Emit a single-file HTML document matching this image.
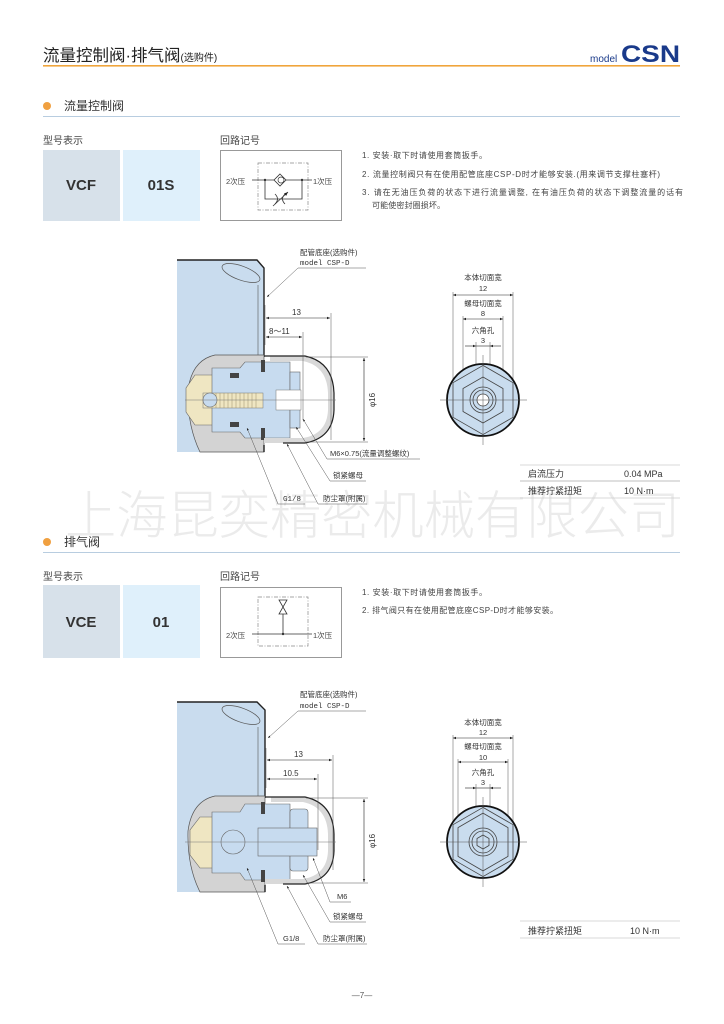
<!DOCTYPE html>
<html><head><meta charset="utf-8"><style>
html,body{margin:0;padding:0;background:#fff;}
svg{display:block;}
text{font-family:"Liberation Sans","Noto Sans CJK SC",sans-serif;fill:#333;}
.s{font-size:8px;}
.t{font-size:7.5px;}
</style></head><body>
<svg width="724" height="1024" viewBox="0 0 724 1024" xmlns="http://www.w3.org/2000/svg">
<defs>
<marker id="ar" viewBox="0 0 10 10" refX="10" refY="5" markerWidth="5" markerHeight="5" orient="auto-start-reverse"><path d="M0,1 L10,5 L0,9 Z" fill="#222"/></marker>
</defs>

<!-- Header -->
<text x="43" y="61" style="font-size:16.5px;fill:#222">流量控制阀·排气阀<tspan style="font-size:10px">(选购件)</tspan></text>
<text x="590" y="62" style="font-size:10px;fill:#1a3a8a">model</text>
<text x="621" y="62" textLength="59" lengthAdjust="spacingAndGlyphs" style="font-size:24px;font-weight:bold;fill:#1a3a8a">CSN</text>
<rect x="43" y="65" width="637" height="1.6" fill="#f0a53c"/>

<!-- Watermark -->
<text x="65" y="534" textLength="615" lengthAdjust="spacingAndGlyphs" style="font-size:52px;fill:#ebebeb;font-family:'Noto Sans CJK SC',sans-serif;font-weight:300">上海昆奕精密机械有限公司</text>

<!-- Section 1 -->
<circle cx="47" cy="106" r="4" fill="#f0a040"/>
<text x="64" y="110" style="font-size:12px;fill:#333">流量控制阀</text>
<rect x="43" y="116" width="637" height="1" fill="#b8cde0"/>

<text x="43" y="144" style="font-size:10px;fill:#444">型号表示</text>
<rect x="43" y="150" width="77" height="71" fill="#d7e1ea"/>
<rect x="123" y="150" width="77" height="71" fill="#dff0fb"/>
<text x="81" y="190" text-anchor="middle" style="font-size:15px;font-weight:bold;fill:#333">VCF</text>
<text x="161" y="190" text-anchor="middle" style="font-size:15px;font-weight:bold;fill:#333">01S</text>

<text x="220" y="144" style="font-size:10px;fill:#444">回路记号</text>
<rect x="220.5" y="150.5" width="121" height="70" fill="#fff" stroke="#999" stroke-width="1"/>
<rect x="258" y="163" width="50" height="47" fill="none" stroke="#888" stroke-width="0.7" stroke-dasharray="4,1.5,1,1.5"/>
<text x="226" y="184" class="t" style="fill:#444">2次压</text>
<text x="313" y="184" class="t" style="fill:#444">1次压</text>
<line x1="252" y1="180" x2="312" y2="180" stroke="#333" stroke-width="0.8"/>
<path d="M280,174 L286,180 L280,186 L274,180 Z" fill="#fff" stroke="#333" stroke-width="0.8"/>
<circle cx="281" cy="180" r="3" fill="none" stroke="#333" stroke-width="0.7"/>
<circle cx="265" cy="180" r="1.2" fill="#333"/>
<circle cx="302" cy="180" r="1.2" fill="#333"/>
<polyline points="265,180 265,199 302,199 302,180" fill="none" stroke="#333" stroke-width="0.8"/>
<path d="M275,194 Q280,199 275,204 M285,194 Q280,199 285,204" fill="none" stroke="#333" stroke-width="0.8"/>
<line x1="273" y1="206" x2="288" y2="192" stroke="#333" stroke-width="0.8" marker-end="url(#ar)"/>

<text x="362" y="158" class="s" textLength="125" style="fill:#444">1. 安装·取下时请使用套筒扳手。</text>
<text x="362" y="177" class="s" textLength="298" style="fill:#444">2. 流量控制阀只有在使用配管底座CSP-D时才能够安装.(用来调节支撑柱塞杆)</text>
<text x="362" y="195" class="s" textLength="321" style="fill:#444">3. 请在无油压负荷的状态下进行流量调整, 在有油压负荷的状态下调整流量的话有</text>
<text x="372" y="208" class="s" textLength="73" style="fill:#444">可能使密封圈损坏。</text>

<!-- Drawing 1 -->
<g>
<path d="M177,260 L257,260 L264,268 L264,452 L177,452 Z" fill="#c9dcee"/>
<path d="M177,260 L257,260 L264,268 L264,357" fill="none" stroke="#222" stroke-width="1.4"/>
<line x1="258" y1="285" x2="258" y2="355" stroke="#555" stroke-width="0.6"/>
<ellipse cx="241" cy="273" rx="20" ry="7" transform="rotate(20 241 273)" fill="#c9dcee" stroke="#555" stroke-width="0.7"/>
<path d="M264,355 L215,355 Q192,360 188,390 Q187,425 200,452 L264,452 Z" fill="#d3d3d3" stroke="#555" stroke-width="0.7"/>
<line x1="264" y1="445" x2="264" y2="452" stroke="#222" stroke-width="1.4"/>
<path d="M215,375 L195,375 L186,388 L186,412 L195,425 L215,425 Z" fill="#efe6c2" stroke="#666" stroke-width="0.6"/>
<path d="M212,368 L240,368 L245,362 L290,362 L290,438 L245,438 L240,432 L212,432 Z" fill="#c7dbef" stroke="#666" stroke-width="0.6"/>
<rect x="203" y="393" width="60" height="15" fill="#efe6c2" stroke="#777" stroke-width="0.5"/>
<path d="M208,393 v15 M212,393 v15 M216,393 v15 M220,393 v15 M224,393 v15 M228,393 v15 M232,393 v15 M236,393 v15 M240,393 v15 M244,393 v15 M248,393 v15 M252,393 v15 M256,393 v15" stroke="#9a8f6a" stroke-width="0.5"/>
<circle cx="210" cy="400" r="7" fill="#c7dbef" stroke="#666" stroke-width="0.6"/>
<rect x="230" y="373" width="9" height="5" fill="#444"/>
<rect x="230" y="422" width="9" height="5" fill="#444"/>
<rect x="261" y="360" width="4" height="12" fill="#444"/>
<rect x="261" y="428" width="4" height="12" fill="#444"/>
<rect x="290" y="372" width="10" height="56" fill="#c7dbef" stroke="#666" stroke-width="0.6"/>
<rect x="276" y="390" width="25" height="20" fill="#fff" stroke="#777" stroke-width="0.5"/>
<path d="M264,356 L305,356 Q333,362 334,393 L334,410 Q333,438 305,443 L264,443 L264,438 L303,438 Q327,434 328,410 L328,393 Q327,366 303,361 L270,361 L270,356 Z" fill="#d9d9d9"/>
<path d="M264,356 L305,356 Q333,362 334,393 L334,410 Q333,438 305,443 L283,443" fill="none" stroke="#222" stroke-width="1.2"/>
<line x1="185" y1="400" x2="336" y2="400" stroke="#777" stroke-width="0.5"/>
<line x1="265" y1="305" x2="265" y2="345" stroke="#555" stroke-width="0.5"/>
<line x1="331" y1="313" x2="331" y2="440" stroke="#555" stroke-width="0.5"/>
<line x1="303" y1="332" x2="303" y2="420" stroke="#555" stroke-width="0.5"/>
<line x1="266" y1="318" x2="330" y2="318" stroke="#222" stroke-width="0.6" marker-start="url(#ar)" marker-end="url(#ar)"/>
<line x1="266" y1="337" x2="302" y2="337" stroke="#222" stroke-width="0.6" marker-start="url(#ar)" marker-end="url(#ar)"/>
<text x="292" y="315" class="s">13</text>
<text x="269" y="334" class="s">8～11</text>
<line x1="306" y1="357" x2="368" y2="357" stroke="#555" stroke-width="0.5"/>
<line x1="306" y1="442" x2="368" y2="442" stroke="#555" stroke-width="0.5"/>
<line x1="364" y1="358" x2="364" y2="441" stroke="#222" stroke-width="0.6" marker-start="url(#ar)" marker-end="url(#ar)"/>
<text x="375" y="400" class="s" text-anchor="middle" transform="rotate(-90 375 400)">φ16</text>
<text x="300" y="255" class="t">配管底座(选购件)</text>
<text x="300" y="265" class="t" style="font-family:'Liberation Mono',monospace">model CSP-D</text>
<line x1="298" y1="268" x2="366" y2="268" stroke="#555" stroke-width="0.5"/>
<line x1="298" y1="268" x2="267" y2="297" stroke="#555" stroke-width="0.5" marker-end="url(#ar)"/>
<text x="330" y="456" class="t">M6×0.75(流量调整螺纹)</text>
<line x1="327" y1="459" x2="420" y2="459" stroke="#555" stroke-width="0.5"/>
<line x1="327" y1="459" x2="303" y2="419" stroke="#555" stroke-width="0.5" marker-end="url(#ar)"/>
<text x="333" y="478" class="t">锁紧螺母</text>
<line x1="330" y1="481" x2="366" y2="481" stroke="#555" stroke-width="0.5"/>
<line x1="330" y1="481" x2="296" y2="427" stroke="#555" stroke-width="0.5" marker-end="url(#ar)"/>
<text x="283" y="501" class="t" style="font-family:'Liberation Mono',monospace">G1/8</text>
<line x1="278" y1="504" x2="305" y2="504" stroke="#555" stroke-width="0.5"/>
<line x1="278" y1="504" x2="247" y2="428" stroke="#555" stroke-width="0.5" marker-end="url(#ar)"/>
<text x="323" y="501" class="t">防尘罩(附属)</text>
<line x1="318" y1="504" x2="367" y2="504" stroke="#555" stroke-width="0.5"/>
<line x1="318" y1="504" x2="287" y2="444" stroke="#555" stroke-width="0.5" marker-end="url(#ar)"/>
</g>

<!-- Right view 1 -->
<g>
<text x="483" y="280" class="t" text-anchor="middle">本体切面宽</text>
<text x="483" y="291" class="t" text-anchor="middle">12</text>
<line x1="453" y1="295" x2="513" y2="295" stroke="#222" stroke-width="0.6" marker-start="url(#ar)" marker-end="url(#ar)"/>
<text x="483" y="306" class="t" text-anchor="middle">螺母切面宽</text>
<text x="483" y="316" class="t" text-anchor="middle">8</text>
<line x1="463" y1="319" x2="503" y2="319" stroke="#222" stroke-width="0.6" marker-start="url(#ar)" marker-end="url(#ar)"/>
<text x="483" y="333" class="t" text-anchor="middle">六角孔</text>
<text x="483" y="343" class="t" text-anchor="middle">3</text>
<line x1="465" y1="346" x2="476" y2="346" stroke="#222" stroke-width="0.6" marker-end="url(#ar)"/>
<line x1="501" y1="346" x2="490" y2="346" stroke="#222" stroke-width="0.6" marker-end="url(#ar)"/>
<line x1="476" y1="346" x2="490" y2="346" stroke="#222" stroke-width="0.6"/>
<path d="M453,292 V395 M513,292 V395 M463,316 V395 M503,316 V395 M476,342 V395 M490,342 V395" stroke="#555" stroke-width="0.5"/>
<circle cx="483" cy="400" r="36" fill="#c9dcee" stroke="#111" stroke-width="1.8"/>
<polygon points="483,365.4 513,382.7 513,417.3 483,434.6 453,417.3 453,382.7" fill="none" stroke="#444" stroke-width="0.8"/>
<polygon points="483,377 503,388.5 503,411.5 483,423 463,411.5 463,388.5" fill="none" stroke="#444" stroke-width="0.8"/>
<circle cx="483" cy="400" r="13" fill="none" stroke="#444" stroke-width="0.8"/>
<circle cx="483" cy="400" r="10" fill="none" stroke="#444" stroke-width="0.8"/>
<circle cx="483" cy="400" r="6" fill="#fff" stroke="#444" stroke-width="0.8"/>
<line x1="440" y1="400" x2="527" y2="400" stroke="#555" stroke-width="0.5"/>
<line x1="483" y1="355" x2="483" y2="445" stroke="#555" stroke-width="0.5"/>
</g>

<!-- Table 1 -->
<line x1="520" y1="465" x2="680" y2="465" stroke="#ccc" stroke-width="0.8"/>
<text x="528" y="477" style="font-size:9px">启流压力</text>
<text x="624" y="477" style="font-size:9px">0.04 MPa</text>
<line x1="520" y1="481" x2="680" y2="481" stroke="#aaa" stroke-width="0.8"/>
<text x="528" y="494" style="font-size:9px">推荐拧紧扭矩</text>
<text x="624" y="494" style="font-size:9px">10 N·m</text>
<line x1="520" y1="498" x2="680" y2="498" stroke="#ccc" stroke-width="0.8"/>

<!-- Section 2 -->
<circle cx="47" cy="542" r="4" fill="#f0a040"/>
<text x="64" y="546" style="font-size:12px;fill:#333">排气阀</text>
<rect x="43" y="552" width="637" height="1" fill="#b8cde0"/>

<text x="43" y="580" style="font-size:10px;fill:#444">型号表示</text>
<rect x="43" y="585" width="77" height="73" fill="#d7e1ea"/>
<rect x="123" y="585" width="77" height="73" fill="#dff0fb"/>
<text x="81" y="627" text-anchor="middle" style="font-size:15px;font-weight:bold;fill:#333">VCE</text>
<text x="161" y="627" text-anchor="middle" style="font-size:15px;font-weight:bold;fill:#333">01</text>

<text x="220" y="580" style="font-size:10px;fill:#444">回路记号</text>
<rect x="220.5" y="587.5" width="121" height="70" fill="#fff" stroke="#999" stroke-width="1"/>
<rect x="258" y="597" width="50" height="49" fill="none" stroke="#888" stroke-width="0.7" stroke-dasharray="4,1.5,1,1.5"/>
<text x="226" y="638" class="t" style="fill:#444">2次压</text>
<text x="313" y="638" class="t" style="fill:#444">1次压</text>
<line x1="252" y1="634" x2="312" y2="634" stroke="#333" stroke-width="0.8"/>
<line x1="283" y1="634" x2="283" y2="614" stroke="#333" stroke-width="0.8"/>
<circle cx="283" cy="634" r="1.2" fill="#333"/>
<path d="M279,600 L287,600 L279,614 L287,614 Z" fill="#fff" stroke="#333" stroke-width="0.8"/>

<text x="362" y="595" class="s" textLength="125" style="fill:#444">1. 安装·取下时请使用套筒扳手。</text>
<text x="362" y="613" class="s" textLength="196" style="fill:#444">2. 排气阀只有在使用配管底座CSP-D时才能够安装。</text>

<!-- Drawing 2 -->
<g>
<path d="M177,702 L257,702 L265,710 L265,892 L177,892 Z" fill="#c9dcee"/>
<path d="M177,702 L257,702 L265,710 L265,798" fill="none" stroke="#222" stroke-width="1.4"/>
<line x1="258" y1="727" x2="258" y2="796" stroke="#555" stroke-width="0.6"/>
<ellipse cx="241" cy="715" rx="20" ry="7" transform="rotate(20 241 715)" fill="#c9dcee" stroke="#555" stroke-width="0.7"/>
<path d="M265,796 L215,796 Q192,801 188,831 Q187,866 200,892 L265,892 Z" fill="#d3d3d3" stroke="#555" stroke-width="0.7"/>
<line x1="265" y1="885" x2="265" y2="892" stroke="#222" stroke-width="1.4"/>
<path d="M215,817 L200,817 L190,830 L190,855 L200,868 L215,868 Z" fill="#efe6c2" stroke="#666" stroke-width="0.6"/>
<path d="M212,812 L240,812 L245,804 L290,804 L290,880 L245,880 L240,873 L212,873 Z" fill="#c7dbef" stroke="#666" stroke-width="0.6"/>
<rect x="290" y="809" width="18" height="62" rx="3" fill="#c7dbef" stroke="#666" stroke-width="0.6"/>
<rect x="258" y="828" width="59" height="28" fill="#c7dbef" stroke="#666" stroke-width="0.6"/>
<circle cx="233" cy="842" r="12" fill="#c7dbef" stroke="#666" stroke-width="0.6"/>
<rect x="261" y="802" width="4" height="12" fill="#444"/>
<rect x="261" y="870" width="4" height="12" fill="#444"/>
<path d="M265,797 L305,797 Q333,803 334,834 L334,851 Q333,879 305,884 L265,884 L265,879 L303,879 Q327,875 328,851 L328,834 Q327,807 303,802 L271,802 L271,797 Z" fill="#d9d9d9"/>
<path d="M265,797 L305,797 Q333,803 334,834 L334,851 Q333,879 305,884 L283,884" fill="none" stroke="#222" stroke-width="1.2"/>
<line x1="185" y1="842" x2="336" y2="842" stroke="#777" stroke-width="0.5"/>
<line x1="266" y1="748" x2="266" y2="788" stroke="#555" stroke-width="0.5"/>
<line x1="333" y1="755" x2="333" y2="870" stroke="#555" stroke-width="0.5"/>
<line x1="318" y1="774" x2="318" y2="850" stroke="#555" stroke-width="0.5"/>
<line x1="267" y1="760" x2="332" y2="760" stroke="#222" stroke-width="0.6" marker-start="url(#ar)" marker-end="url(#ar)"/>
<line x1="267" y1="779" x2="317" y2="779" stroke="#222" stroke-width="0.6" marker-start="url(#ar)" marker-end="url(#ar)"/>
<text x="294" y="757" class="s">13</text>
<text x="283" y="776" class="s">10.5</text>
<line x1="306" y1="798" x2="368" y2="798" stroke="#555" stroke-width="0.5"/>
<line x1="306" y1="883" x2="368" y2="883" stroke="#555" stroke-width="0.5"/>
<line x1="364" y1="799" x2="364" y2="882" stroke="#222" stroke-width="0.6" marker-start="url(#ar)" marker-end="url(#ar)"/>
<text x="375" y="841" class="s" text-anchor="middle" transform="rotate(-90 375 841)">φ16</text>
<text x="300" y="697" class="t">配管底座(选购件)</text>
<text x="300" y="708" class="t" style="font-family:'Liberation Mono',monospace">model CSP-D</text>
<line x1="298" y1="711" x2="366" y2="711" stroke="#555" stroke-width="0.5"/>
<line x1="298" y1="711" x2="268" y2="738" stroke="#555" stroke-width="0.5" marker-end="url(#ar)"/>
<text x="337" y="899" class="t">M6</text>
<line x1="330" y1="902" x2="351" y2="902" stroke="#555" stroke-width="0.5"/>
<line x1="330" y1="902" x2="313" y2="858" stroke="#555" stroke-width="0.5" marker-end="url(#ar)"/>
<text x="333" y="919" class="t">锁紧螺母</text>
<line x1="330" y1="922" x2="366" y2="922" stroke="#555" stroke-width="0.5"/>
<line x1="330" y1="922" x2="303" y2="875" stroke="#555" stroke-width="0.5" marker-end="url(#ar)"/>
<text x="283" y="941" class="t">G1/8</text>
<line x1="278" y1="944" x2="305" y2="944" stroke="#555" stroke-width="0.5"/>
<line x1="278" y1="944" x2="247" y2="868" stroke="#555" stroke-width="0.5" marker-end="url(#ar)"/>
<text x="323" y="941" class="t">防尘罩(附属)</text>
<line x1="318" y1="944" x2="367" y2="944" stroke="#555" stroke-width="0.5"/>
<line x1="318" y1="944" x2="287" y2="886" stroke="#555" stroke-width="0.5" marker-end="url(#ar)"/>
</g>

<!-- Right view 2 -->
<g>
<text x="483" y="725" class="t" text-anchor="middle">本体切面宽</text>
<text x="483" y="735" class="t" text-anchor="middle">12</text>
<line x1="453" y1="738" x2="513" y2="738" stroke="#222" stroke-width="0.6" marker-start="url(#ar)" marker-end="url(#ar)"/>
<text x="483" y="749" class="t" text-anchor="middle">螺母切面宽</text>
<text x="483" y="760" class="t" text-anchor="middle">10</text>
<line x1="458" y1="762" x2="508" y2="762" stroke="#222" stroke-width="0.6" marker-start="url(#ar)" marker-end="url(#ar)"/>
<text x="483" y="775" class="t" text-anchor="middle">六角孔</text>
<text x="483" y="785" class="t" text-anchor="middle">3</text>
<line x1="465" y1="788" x2="476" y2="788" stroke="#222" stroke-width="0.6" marker-end="url(#ar)"/>
<line x1="501" y1="788" x2="490" y2="788" stroke="#222" stroke-width="0.6" marker-end="url(#ar)"/>
<line x1="476" y1="788" x2="490" y2="788" stroke="#222" stroke-width="0.6"/>
<path d="M453,735 V837 M513,735 V837 M458,759 V837 M508,759 V837 M476,784 V837 M490,784 V837" stroke="#555" stroke-width="0.5"/>
<circle cx="483" cy="842" r="36" fill="#c9dcee" stroke="#111" stroke-width="1.8"/>
<polygon points="483,807.4 513,824.7 513,859.3 483,876.6 453,859.3 453,824.7" fill="none" stroke="#444" stroke-width="0.8"/>
<polygon points="483,813.1 508,827.6 508,856.4 483,870.9 458,856.4 458,827.6" fill="none" stroke="#444" stroke-width="0.8"/>
<circle cx="483" cy="842" r="14" fill="none" stroke="#444" stroke-width="0.8"/>
<circle cx="483" cy="842" r="11" fill="none" stroke="#444" stroke-width="0.8"/>
<polygon points="483,835 489,838.5 489,845.5 483,849 477,845.5 477,838.5" fill="none" stroke="#444" stroke-width="0.8"/>
<line x1="440" y1="842" x2="527" y2="842" stroke="#555" stroke-width="0.5"/>
<line x1="483" y1="797" x2="483" y2="887" stroke="#555" stroke-width="0.5"/>
</g>

<!-- Table 2 -->
<line x1="520" y1="921" x2="680" y2="921" stroke="#ccc" stroke-width="0.8"/>
<text x="528" y="934" style="font-size:9px">推荐拧紧扭矩</text>
<text x="630" y="934" style="font-size:9px">10 N·m</text>
<line x1="520" y1="938" x2="680" y2="938" stroke="#ccc" stroke-width="0.8"/>

<!-- Footer -->
<text x="362" y="998" text-anchor="middle" style="font-size:8px;fill:#555">—7—</text>
</svg>
</body></html>
